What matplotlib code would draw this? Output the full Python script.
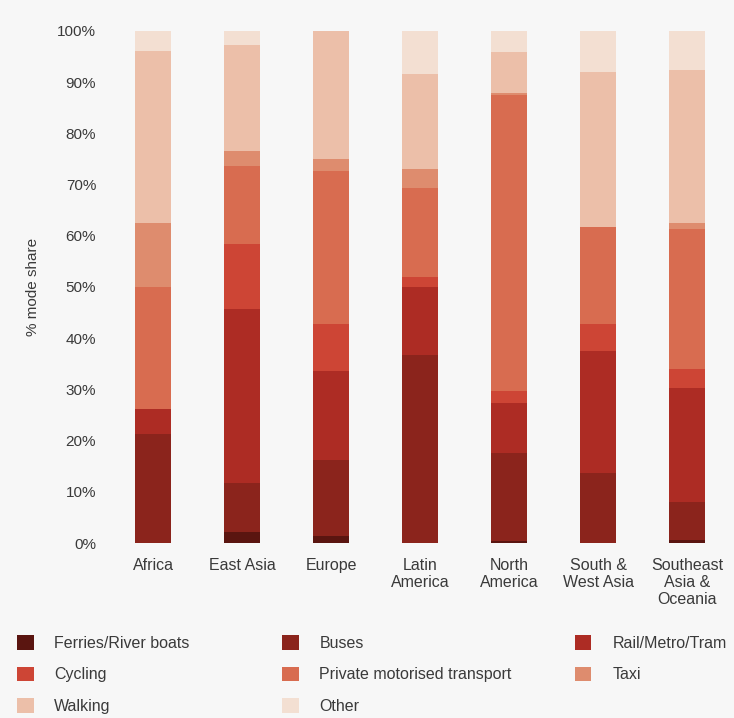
import numpy as np
import matplotlib
matplotlib.use('Agg')
import matplotlib.pyplot as plt
from matplotlib.patches import Patch

plt.rcParams['font.family'] = ['Liberation Sans', 'DejaVu Sans']

regions = ['Africa', 'East Asia', 'Europe', 'Latin\nAmerica', 'North\nAmerica',
           'South &\nWest Asia', 'Southeast\nAsia &\nOceania']

modes = ['Ferries/River boats', 'Buses', 'Rail/Metro/Tram', 'Cycling',
         'Private motorised transport', 'Taxi', 'Walking', 'Other']
colores = ['#5a1510', '#8b241c', '#ad2c24', '#cd4535',
           '#d86c50', '#de8c6e', '#ecbfa9', '#f3dfd2']

# % share per region, one list per mode
ferries = [0.0, 2.1, 1.4, 0.0, 0.3, 0.0, 0.6]
buses = [21.3, 9.6, 14.8, 36.7, 17.3, 13.7, 7.4]
rail = [4.9, 34.0, 17.4, 13.3, 9.7, 23.8, 22.3]
cycling = [0.0, 12.7, 9.2, 2.0, 2.4, 5.3, 3.7]
private = [23.8, 15.2, 29.9, 17.3, 57.8, 18.9, 27.3]
taxi = [12.5, 3.0, 2.3, 3.7, 0.4, 0.0, 1.2]
walking = [33.6, 20.7, 25.0, 18.6, 8.0, 30.3, 29.9]
other = [3.9, 2.7, 0.0, 8.4, 4.5, 8.0, 7.6]

valores = [ferries, buses, rail, cycling, private, taxi, walking, other]

fig = plt.figure(figsize=(7.34, 7.18), dpi=100, facecolor='#f7f7f7')
ax = fig.add_axes([0.148, 0.2437, 0.843, 0.7132])
ax.set_facecolor('none')

x = np.arange(len(regions))
base = np.zeros(len(regions))
handles = []
for nombre, vals, col in zip(modes, valores, colores):
    ax.bar(x, vals, width=0.405, bottom=base, color=col, edgecolor='none')
    base += np.array(vals)
    handles.append(Patch(facecolor=col, edgecolor='none', label=nombre))

ax.set_xlim(-0.5, 6.45)
ax.set_ylim(0, 100)
ax.set_yticks(np.arange(0, 101, 10))
ax.set_yticklabels([f'{v}%' for v in range(0, 101, 10)])
ax.set_xticks(x)
ax.set_xticklabels(regions, linespacing=1.15)
for s in ax.spines.values():
    s.set_visible(False)
ax.tick_params(axis='both', length=0, colors='#3a3a3a')
ax.tick_params(axis='x', pad=11, labelsize=11.5)
ax.tick_params(axis='y', pad=9, labelsize=11)
ax.set_ylabel('% mode share', fontsize=11, color='#3a3a3a', labelpad=12)

# legend: three columns placed by hand
columnas = [[0, 3, 6], [1, 4, 7], [2, 5]]
xs = [0.023, 0.384, 0.783]
for xc, idx in zip(xs, columnas):
    fig.legend(handles=[handles[i] for i in idx], loc='upper left',
               bbox_to_anchor=(xc, 0.116), frameon=False, fontsize=11.5,
               handlelength=1.05, handleheight=1.05, handletextpad=1.3,
               labelspacing=1.0, labelcolor='#3a3a3a', borderaxespad=0,
               borderpad=0)

fig.savefig('out.png', dpi=100, facecolor=fig.get_facecolor())
